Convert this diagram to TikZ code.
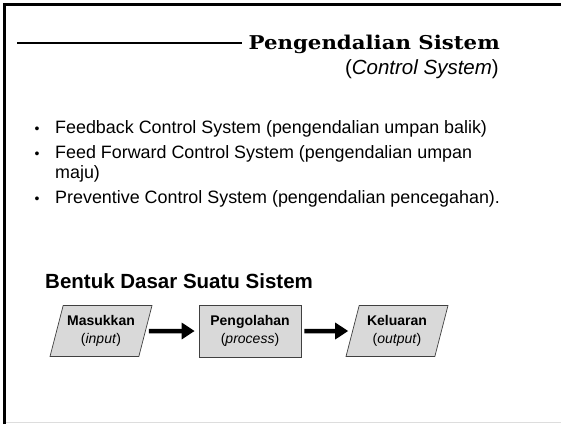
\documentclass[tikz,border=0pt]{standalone}
\usepackage{fontspec}
\setmainfont{Liberation Sans}
\newfontfamily\judulfont[FakeStretch=1.12]{DejaVu Serif}
\usetikzlibrary{positioning}
\usetikzlibrary{shapes.geometric}
\usetikzlibrary{arrows.meta}
\definecolor{kotakabu}{HTML}{D9D9D9}
\definecolor{garisabu}{HTML}{DDDDDD}

\tikzset{
  jajar/.style={trapezium, trapezium left angle=67, trapezium right angle=113,
    trapezium stretches body, draw=black!75, fill=kotakabu, line width=0.7pt,
    minimum height=51pt, minimum width=102pt, inner sep=0pt, align=center,
    font=\fontsize{14}{18}\selectfont},
  kotak/.style={rectangle, draw=black!75, fill=kotakabu, line width=0.7pt,
    minimum height=52pt, minimum width=102pt, inner sep=0pt, align=center,
    font=\fontsize{14}{18}\selectfont},
  panah/.style={line width=4.5pt, -{Triangle[length=13pt,width=16pt]},
    shorten <=3pt, shorten >=4pt},
  butir/.style={anchor=base west, inner sep=0pt, font=\fontsize{17.9}{20}\selectfont}
}

\begin{document}
\begin{tikzpicture}[x=1pt,y=-1pt]
  \useasboundingbox (0,0) rectangle (561,424);
  % bingkai
  \draw[line width=3pt] (4.5,424) -- (4.5,4.5) -- (561,4.5);
  \draw[garisabu,line width=1.5pt] (6,422.5) -- (561,422.5);

  % judul
  \node[anchor=base east, inner sep=0pt, font=\judulfont\bfseries\fontsize{19}{22}\selectfont] (judul) at (500,49) {Pengendalian Sistem};
  \node[anchor=base east, inner sep=0pt, font=\fontsize{20.5}{22}\selectfont] (subjudul) at (499,74) {(\textit{Control System})};
  \coordinate (garisawal) at (17,43);
  \draw[line width=2.6pt, shorten >=6pt] (garisawal) -- (garisawal -| judul.west);

  % daftar
  \foreach \yy in {133,158,203}
    \node[anchor=base, inner sep=0pt, font=\fontsize{14}{16}\selectfont] at (37,\yy) {•};
  \node[butir] (b1) at (55,133) {Feedback Control System (pengendalian umpan balik)};
  \node[butir] (b2) at (55,158) {Feed Forward Control System (pengendalian umpan};
  \node[butir] (b2a) at (55,178) {maju)};
  \node[butir] (b3) at (55,203) {Preventive Control System (pengendalian pencegahan).};

  % bentuk dasar
  \node[anchor=base west, inner sep=0pt, font=\bfseries\fontsize{20.5}{23}\selectfont] (bentuk) at (45,288) {Bentuk Dasar Suatu Sistem};

  \node[jajar] (masuk) at (101,331) {\textbf{Masukkan}\\(\textit{input})};
  \node[kotak] (olah) at (250,331) {\textbf{Pengolahan}\\(\textit{process})};
  \node[jajar] (keluar) at (397,331) {\textbf{Keluaran}\\(\textit{output})};

  \draw[panah] (masuk.east) -- (olah.west);
  \draw[panah] (olah.east) -- (keluar.west);
\end{tikzpicture}
\end{document}
